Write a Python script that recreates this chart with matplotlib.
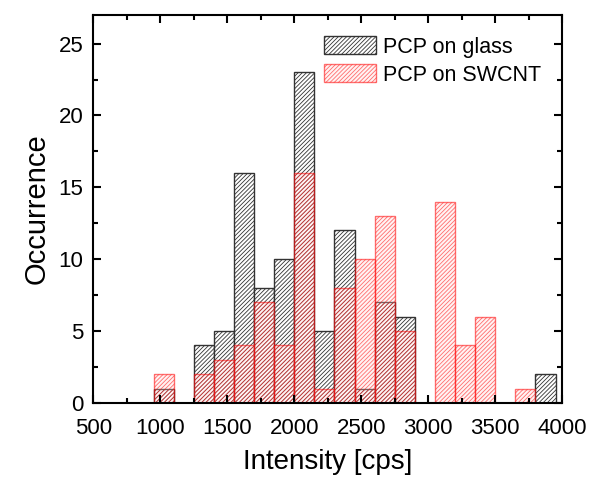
import matplotlib.pyplot as plt
import matplotlib.ticker as ticker
from matplotlib.patches import Patch

plt.rcParams['font.family'] = ['Liberation Sans', 'DejaVu Sans']
plt.rcParams['hatch.linewidth'] = 0.6

# left edges of the 150 cps wide bins
bin_left = [950, 1100, 1250, 1400, 1550, 1700, 1850, 2000, 2150, 2300,
            2450, 2600, 2750, 2900, 3050, 3200, 3350, 3500, 3650, 3800]
glass = [1, 0, 4, 5, 16, 8, 10, 23, 5, 12, 1, 7, 6, 0, 0, 0, 0, 0, 0, 2]
swcnt = [2, 0, 2, 3, 4, 7, 4, 16, 1, 8, 10, 13, 5, 0, 14, 4, 6, 0, 1, 0]
bin_width = 150

black_edge = (0.2, 0.2, 0.2)
red_face = (1, 0.85, 0.85, 0.3)
red_edge = (1, 0, 0, 0.55)
hatch = '////////'

fig = plt.figure(figsize=(5.9, 4.78), dpi=100)
ax = fig.add_axes([0.158, 0.157, 0.795, 0.812])

gx = [b for b, v in zip(bin_left, glass) if v > 0]
gv = [v for v in glass if v > 0]
rx = [b for b, v in zip(bin_left, swcnt) if v > 0]
rv = [v for v in swcnt if v > 0]

ax.bar(gx, gv, width=bin_width, align='edge', facecolor='white',
       edgecolor=black_edge, hatch=hatch, linewidth=1.0)
ax.bar(rx, rv, width=bin_width, align='edge', facecolor=red_face,
       edgecolor=red_edge, hatch=hatch, linewidth=1.0)

ax.set_xlim(500, 4000)
ax.set_ylim(0, 27)
ax.xaxis.set_major_locator(ticker.MultipleLocator(500))
ax.xaxis.set_minor_locator(ticker.MultipleLocator(250))
ax.yaxis.set_major_locator(ticker.MultipleLocator(5))
ax.yaxis.set_minor_locator(ticker.MultipleLocator(2.5))
ax.tick_params(which='both', direction='in', top=True, right=True, width=1.5)
ax.tick_params(which='major', length=6, labelsize=16, pad=7)
ax.tick_params(which='minor', length=3.5)
ax.tick_params(axis='x', which='major', pad=11)
for spine in ax.spines.values():
    spine.set_linewidth(1.5)

ax.set_xlabel('Intensity [cps]', fontsize=20, labelpad=7)
ax.set_ylabel('Occurrence', fontsize=21, labelpad=6)

handles = [Patch(facecolor='white', edgecolor=black_edge, hatch=hatch, label='PCP on glass'),
           Patch(facecolor=red_face, edgecolor=red_edge, hatch=hatch, label='PCP on SWCNT')]
ax.legend(handles=handles, loc='upper right', frameon=False, fontsize=15.5,
          handlelength=2.4, handleheight=0.9, handletextpad=0.3,
          labelspacing=0.3, borderaxespad=0.6)

fig.savefig('out.png', dpi=100)
